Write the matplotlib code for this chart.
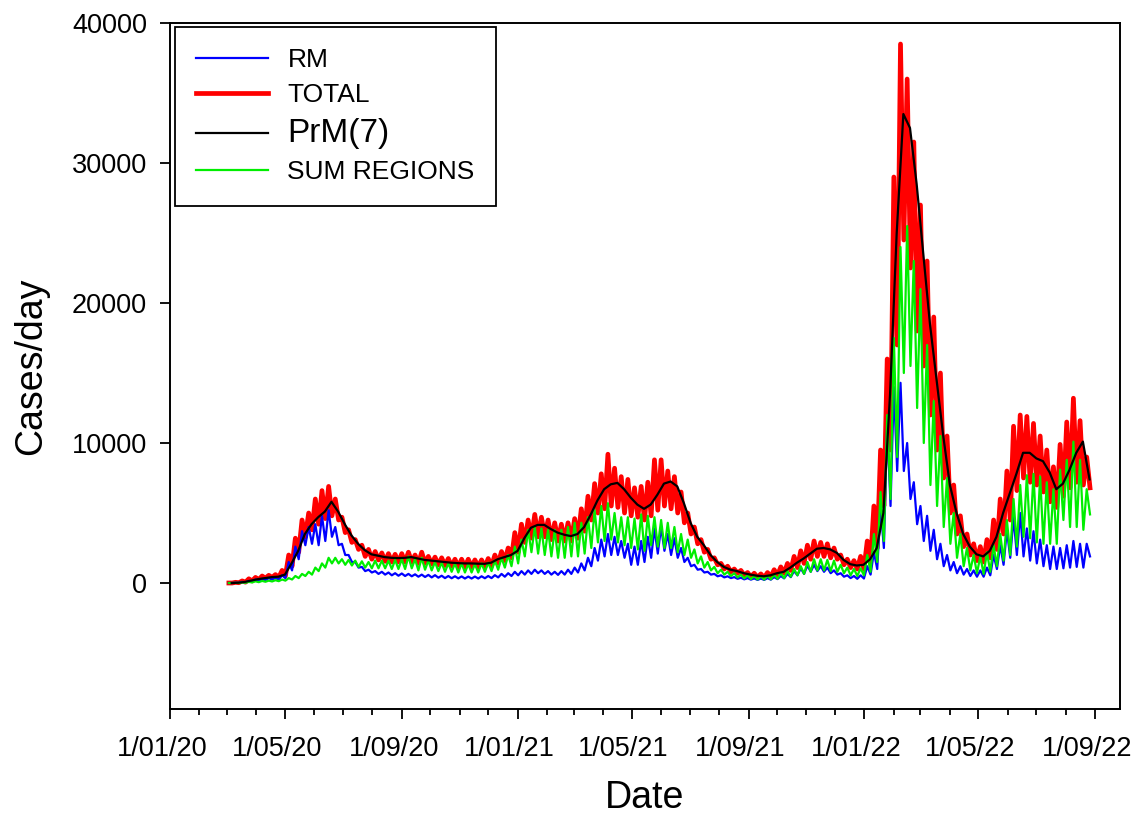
import numpy as np
import matplotlib
matplotlib.use('Agg')
import matplotlib.pyplot as plt
import matplotlib.dates as mdates
import matplotlib.transforms as mtransforms

plt.rcParams['font.family'] = ['Liberation Sans', 'DejaVu Sans']

# ---------------- data (weekly readings from the picture) ----------------
START = '2020-03-03'   # first day of the series, one entry per week below

RED_HI = [0, 50, 150, 300, 400, 500, 550, 600, 900,
          2000, 3200, 4500, 5000, 6000, 6600, 6900, 6000, 4700,
          3800, 3100, 2700, 2400, 2250, 2150, 2100, 2050, 2100,
          2200, 2000, 2200, 1900, 1850, 1800, 1750, 1700, 1700,
          1700, 1650, 1650, 1750, 2000, 2250, 2500, 3600,
          4200, 4500, 4900, 4700, 4500, 4300, 4200, 4300, 4600,
          5300, 6200, 7100, 7800, 9200, 8200, 7600, 7400, 6800,
          6900, 7200, 8800, 8800, 8000, 7600, 6500, 5000, 4000,
          3100, 2400, 1800, 1400, 1200, 1000, 900, 750, 700,
          650, 750, 950, 1150, 1400, 1900, 2300, 2700, 3000,
          2900, 2800, 2500, 2000, 1700, 1600, 1900, 3000, 5500,
          9500, 16000, 29000, 38500, 36000, 31500, 27000, 23000, 19000,
          15000, 10500, 7000, 4800, 3500, 2800, 2600, 3100, 4500,
          6000, 8000, 11200, 12000, 11900, 11400, 10500, 9500, 8300,
          9900, 11500, 13200, 11600, 9000]
RED_LO = [0, 20, 60, 150, 250, 350, 400, 400, 500,
          1200, 2200, 3300, 3800, 4200, 4600, 4800, 4500, 3600,
          2900, 2400, 1900, 1700, 1650, 1550, 1500, 1500, 1500,
          1500, 1400, 1400, 1350, 1300, 1250, 1200, 1150, 1150,
          1150, 1150, 1150, 1200, 1400, 1600, 1800, 2200,
          2900, 3200, 3300, 3300, 3100, 3000, 3000, 3000, 3200,
          3700, 4500, 5000, 5300, 5500, 5400, 5000, 4800, 4700,
          4500, 4800, 5200, 5500, 5300, 5000, 4300, 3500, 2800,
          2200, 1700, 1300, 1000, 800, 700, 550, 450, 400,
          380, 450, 550, 700, 900, 1100, 1400, 1700, 1900,
          1900, 1800, 1700, 1300, 1100, 1000, 1000, 1500, 2500,
          5500, 9500, 17000, 24500, 22500, 18000, 15500, 12000, 9500,
          7500, 5000, 3500, 2600, 2000, 1600, 1500, 1800, 2400,
          3500, 4500, 6600, 7500, 7200, 7000, 6500, 5800, 5400,
          6200, 6800, 7200, 7000, 6800]

PRM7 = [0, 20, 80, 180, 280, 350, 420, 450, 600,
        1400, 2300, 3500, 4200, 4700, 5100, 5800, 5100, 4200,
        3400, 2800, 2350, 2050, 1950, 1850, 1800, 1780, 1800,
        1850, 1750, 1650, 1600, 1550, 1500, 1450, 1420, 1400,
        1400, 1380, 1370, 1450, 1700, 1850, 2000, 2300,
        3200, 3950, 4150, 4150, 3850, 3600, 3450, 3350, 3500,
        4000, 4900, 5900, 6700, 7050, 7150, 6700, 6100, 5600,
        5300, 5600, 6300, 7100, 7250, 6900, 5700, 4300, 3300,
        2700, 2000, 1500, 1150, 950, 850, 700, 600, 520,
        480, 550, 700, 800, 1100, 1450, 1750, 2100, 2450,
        2500, 2400, 2150, 1650, 1350, 1250, 1300, 1700, 2500,
        5000, 13500, 25000, 33500, 32500, 28500, 23500, 18500, 14500,
        10500, 7000, 5000, 3500, 2600, 2050, 1900, 2300, 3300,
        5000, 6400, 7800, 9300, 9300, 8900, 8700, 7900, 6700,
        7100, 8100, 9300, 10100, 7400]

GREEN_HI = [0, 10, 40, 80, 120, 150, 170, 200, 250,
            350, 500, 650, 800, 1100, 1400, 1800, 1800, 1700,
            1650, 1600, 1550, 1500, 1600, 1600, 1600, 1650, 1700,
            1900, 1700, 1800, 1600, 1500, 1450, 1400, 1400, 1400,
            1350, 1350, 1400, 1450, 1600, 1800, 2000, 2600,
            3100, 3800, 4000, 3900, 3800, 3800, 3800, 4000, 4300,
            4300, 4700, 5200, 5500, 5700, 5000, 4700, 4700, 4600,
            4900, 4800, 4700, 4500, 4300, 4000, 3500, 3100, 2400,
            1900, 1500, 1150, 950, 800, 700, 600, 550, 500,
            480, 520, 600, 700, 850, 1000, 1200, 1500, 1700,
            1700, 1650, 1600, 1300, 1100, 1000, 1050, 2000, 3500,
            6500, 12000, 17500, 24000, 25500, 23000, 21000, 17000, 13000,
            10500, 7500, 5000, 3500, 2500, 2000, 1900, 2200, 2700,
            3500, 4500, 6000, 7000, 7700, 7800, 7600, 7200, 6700,
            8100, 8800, 10100, 8800, 6700]
GREEN_LO = [0, 0, 20, 40, 60, 90, 110, 130, 170,
            250, 350, 500, 600, 850, 1100, 1400, 1400, 1300,
            1250, 1150, 1100, 1050, 1050, 1050, 1000, 1000, 1000,
            1050, 900, 950, 900, 850, 800, 800, 750, 750,
            750, 750, 800, 850, 950, 1100, 1200, 1400,
            1900, 2200, 2100, 2000, 1900, 1800, 1800, 1900, 1900,
            2100, 2500, 2900, 3000, 3100, 2900, 2700, 2500, 2400,
            2300, 2700, 2600, 2500, 2500, 2200, 2000, 1800, 1400,
            1100, 900, 700, 600, 500, 400, 330, 280, 250,
            240, 260, 300, 350, 450, 550, 650, 800, 900,
            900, 850, 800, 700, 550, 500, 550, 800, 1500,
            3000, 6000, 9000, 15000, 15500, 12500, 10000, 7000, 5500,
            4000, 2800, 1800, 1200, 900, 700, 650, 800, 1200,
            1600, 2000, 2600, 3300, 3200, 2900, 2800, 2800, 2800,
            4500, 4000, 4000, 3800, 4900]

BLUE_HI = [0, 20, 80, 150, 250, 300, 350, 350, 550,
           1500, 2600, 3700, 4000, 4200, 4800, 5200, 4000, 2800,
           2000, 1500, 1150, 950, 850, 800, 750, 700, 680,
           650, 620, 600, 580, 560, 520, 500, 480, 470,
           460, 460, 480, 500, 560, 650, 700, 800,
           850, 900, 950, 900, 850, 800, 850, 950, 1100,
           1400, 1800, 2500, 3100, 3500, 3300, 3000, 2800, 2600,
           3000, 3300, 3900, 4000, 3500, 3200, 2500, 1800, 1300,
           1000, 800, 650, 550, 480, 420, 380, 350, 330,
           320, 350, 420, 500, 650, 850, 1050, 1250, 1300,
           1200, 1100, 900, 700, 550, 500, 550, 1200, 2200,
           5500, 11500, 14000, 14300, 10000, 7200, 5500, 4800, 3800,
           2800, 2000, 1500, 1200, 1000, 900, 900, 1100, 2000,
           2700, 3800, 4700, 5000, 3900, 3700, 3100, 2700, 2600,
           2500, 2700, 3000, 2800, 2800]
BLUE_LO = [0, 10, 40, 80, 150, 200, 250, 250, 350,
           900, 1700, 2700, 2800, 2700, 3000, 3300, 2700, 2000,
           1500, 1100, 850, 750, 650, 600, 550, 520, 500,
           480, 450, 430, 400, 380, 350, 340, 330, 320,
           320, 320, 340, 350, 400, 450, 500, 550,
           600, 650, 700, 650, 600, 580, 600, 650, 750,
           900, 1200, 1600, 1900, 2000, 2000, 1800, 1300, 1300,
           1500, 1800, 2100, 2300, 2000, 1800, 1500, 1200, 950,
           750, 600, 480, 400, 350, 300, 260, 240, 220,
           220, 240, 280, 330, 420, 550, 650, 800, 850,
           800, 700, 600, 450, 350, 300, 320, 600, 1000,
           2500, 5500, 8000, 8000, 6000, 4200, 3000, 2300, 1700,
           1200, 900, 700, 600, 500, 450, 450, 550, 1000,
           1300, 1800, 2000, 1900, 1600, 1400, 1200, 1000, 1000,
           1050, 1100, 1150, 1100, 1900]

LABELS = ['RM', 'TOTAL', 'PrM(7)', 'SUM REGIONS']
XTICK_DATES = ['2020-01-01', '2020-05-01', '2020-09-01', '2021-01-01', '2021-05-01',
               '2021-09-01', '2022-01-01', '2022-05-01', '2022-09-01']
XTICK_LABELS = ['1/01/20', '1/05/20', '1/09/20', '1/01/21', '1/05/21',
                '1/09/21', '1/01/22', '1/05/22', '1/09/22']
YTICKS = [0, 10000, 20000, 30000, 40000]
YTICK_LABELS = ['0', '10000', '20000', '30000', '40000']


def weekly_times(n, offset_h=0):
    start = np.datetime64(START, 'h')
    return start + np.arange(n) * np.timedelta64(168, 'h') + np.timedelta64(offset_h, 'h')


def zigzag(hi, lo):
    n = len(hi)
    t = np.empty(2 * n, dtype='datetime64[h]')
    t[0::2] = weekly_times(n, 0)
    t[1::2] = weekly_times(n, 84)
    v = np.empty(2 * n)
    v[0::2] = hi
    v[1::2] = lo
    return t.astype('datetime64[s]').astype(object), v


fig = plt.figure(figsize=(11.37, 8.25), dpi=100)
ax = fig.add_axes([0.1495, 0.1406, 0.8355, 0.8315])

tr, vr = zigzag(RED_HI, RED_LO)
tb, vb = zigzag(BLUE_HI, BLUE_LO)
tg, vg = zigzag(GREEN_HI, GREEN_LO)
tk = weekly_times(len(PRM7), 72).astype('datetime64[s]').astype(object)

hr, = ax.plot(tr, vr, color='#ff0000', lw=3.4, zorder=2, solid_joinstyle='round')
hb, = ax.plot(tb, vb, color='#0000ff', lw=1.6, zorder=3)
hg, = ax.plot(tg, vg, color='#00ee00', lw=1.6, zorder=4)
hk, = ax.plot(tk, PRM7, color='black', lw=1.6, zorder=5)

ax.set_xlim(np.datetime64('2020-01-01').astype(object), np.datetime64('2022-09-27').astype(object))
ax.set_ylim(-9000, 40000)

xt = [np.datetime64(d).astype(object) for d in XTICK_DATES]
ax.set_xticks(mdates.date2num(xt))
ax.set_xticklabels(XTICK_LABELS)
ax.xaxis.set_minor_locator(mdates.MonthLocator())
ax.set_yticks(YTICKS)
ax.set_yticklabels(YTICK_LABELS)

ax.tick_params(axis='both', which='major', direction='out', length=7.5, width=1.3,
               labelsize=19.5, color='black')
ax.tick_params(axis='x', which='major', pad=12)
ax.tick_params(axis='y', which='major', pad=9)
ax.tick_params(axis='x', which='minor', direction='out', length=4, width=1.3)
for s in ax.spines.values():
    s.set_linewidth(1.4)
    s.set_color('black')

# x tick labels sit slightly left of their ticks in the reference
shift = mtransforms.ScaledTranslation(-8 / 100, 0, fig.dpi_scale_trans)
for lab in ax.get_xticklabels():
    lab.set_transform(lab.get_transform() + shift)

ax.set_ylabel('Cases/day', fontsize=27)
ax.yaxis.set_label_coords(-0.127, 0.5)
ax.set_xlabel('Date', fontsize=27)
ax.xaxis.set_label_coords(0.5, -0.104)

leg = ax.legend(handles=[hb, hr, hk, hg], labels=LABELS, loc='upper left',
                bbox_to_anchor=(0.005, 0.994), borderaxespad=0, fancybox=False,
                edgecolor='black', framealpha=1, fontsize=19, handlelength=2.75,
                handletextpad=0.72, labelspacing=0.42, borderpad=0.8)
leg.get_frame().set_linewidth(1.3)
leg.get_texts()[2].set_fontsize(24)

fig.savefig('out.png', dpi=100)
